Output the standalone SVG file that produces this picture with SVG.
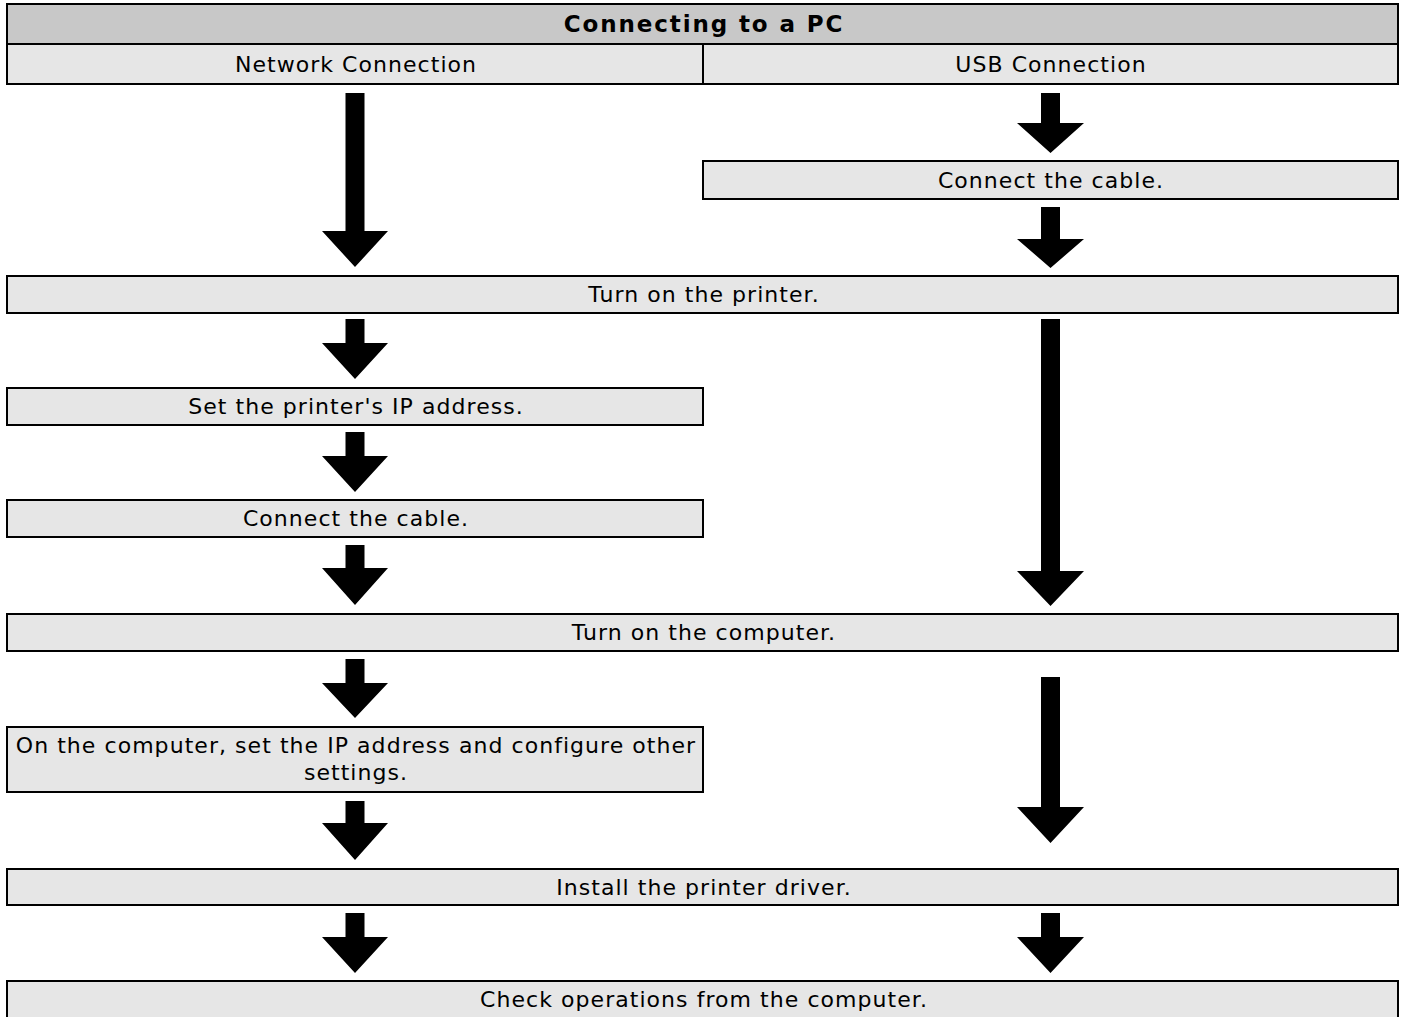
<svg xmlns="http://www.w3.org/2000/svg" width="1405" height="1017" viewBox="0 0 1405 1017">
<style>
.box{fill:#e6e6e6;stroke:#000;stroke-width:2}
.hdr{fill:#c8c8c8;stroke:#000;stroke-width:2}
.t{font-family:"DejaVu Sans",Verdana,sans-serif;font-size:22px;letter-spacing:1.05px;fill:#000;text-anchor:middle}
.b{font-weight:bold;font-size:23px;letter-spacing:1.9px}
.arr{fill:#000}
</style>
<rect width="1405" height="1017" fill="#fff"/>
<g id="header"><rect class="hdr" x="7" y="4" width="1391" height="40"/><text class="t b" x="704" y="32">Connecting to a PC</text></g>
<g id="network"><rect class="box" x="7" y="44" width="696" height="40"/><text class="t" x="356" y="72">Network Connection</text></g>
<g id="usb"><rect class="box" x="703" y="44" width="695" height="40"/><text class="t" x="1051" y="72">USB Connection</text></g>
<g id="usb-cable"><rect class="box" x="703" y="161" width="695" height="38"/><text class="t" x="1051" y="188">Connect the cable.</text></g>
<g id="printer"><rect class="box" x="7" y="276" width="1391" height="37"/><text class="t" x="704" y="302">Turn on the printer.</text></g>
<g id="set-ip"><rect class="box" x="7" y="388" width="696" height="37"/><text class="t" x="356" y="414">Set the printer's IP address.</text></g>
<g id="net-cable"><rect class="box" x="7" y="500" width="696" height="37"/><text class="t" x="356" y="526">Connect the cable.</text></g>
<g id="computer"><rect class="box" x="7" y="614" width="1391" height="37"/><text class="t" x="704" y="640">Turn on the computer.</text></g>
<g id="pc-settings"><rect class="box" x="7" y="727" width="696" height="65"/><text class="t" x="356" y="753">On the computer, set the IP address and configure other</text><text class="t" x="356" y="780">settings.</text></g>
<g id="driver"><rect class="box" x="7" y="869" width="1391" height="36"/><text class="t" x="704" y="895">Install the printer driver.</text></g>
<g id="check"><rect class="box" x="7" y="981" width="1391" height="42"/><text class="t" x="704" y="1007">Check operations from the computer.</text></g>
<g id="connectors" class="arr">
<polygon points="345.5,93 364.5,93 364.5,231 388,231 355,267 322,231 345.5,231"/>
<polygon points="345.5,319 364.5,319 364.5,343 388,343 355,379 322,343 345.5,343"/>
<polygon points="345.5,432 364.5,432 364.5,456 388,456 355,492 322,456 345.5,456"/>
<polygon points="345.5,545 364.5,545 364.5,568 388,568 355,605 322,568 345.5,568"/>
<polygon points="345.5,659 364.5,659 364.5,683 388,683 355,718 322,683 345.5,683"/>
<polygon points="345.5,801 364.5,801 364.5,823 388,823 355,860 322,823 345.5,823"/>
<polygon points="345.5,913 364.5,913 364.5,937 388,937 355,973 322,937 345.5,937"/>
<polygon points="1041,93 1060,93 1060,123 1084,123 1050.5,153 1017,123 1041,123"/>
<polygon points="1041,207 1060,207 1060,239 1084,239 1050.5,268 1017,239 1041,239"/>
<polygon points="1041,319 1060,319 1060,571 1084,571 1050.5,606 1017,571 1041,571"/>
<polygon points="1041,677 1060,677 1060,807 1084,807 1050.5,843 1017,807 1041,807"/>
<polygon points="1041,913 1060,913 1060,937 1084,937 1050.5,973 1017,937 1041,937"/>
</g>
</svg>
